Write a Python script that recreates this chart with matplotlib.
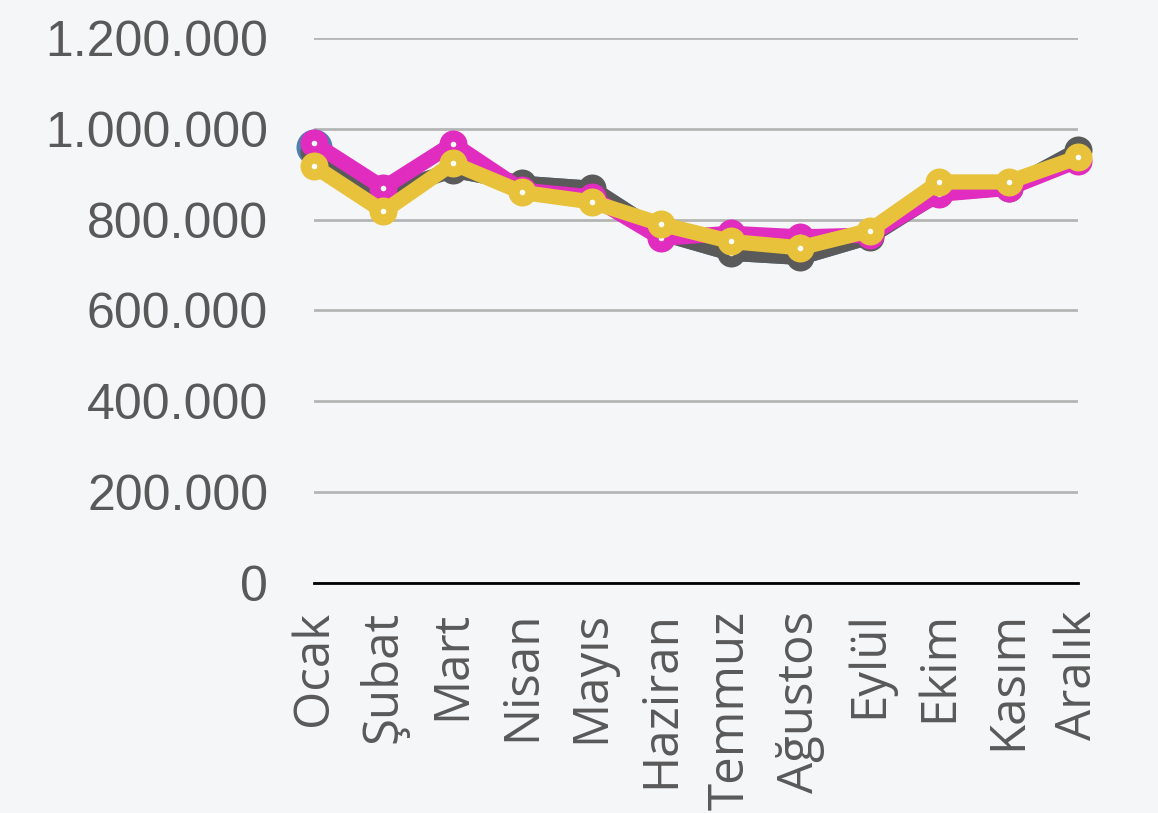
import matplotlib
matplotlib.use("Agg")
import matplotlib.pyplot as plt
from matplotlib.ticker import FuncFormatter

months = ["Ocak", "Şubat", "Mart", "Nisan", "Mayıs", "Haziran", "Temmuz",
          "Ağustos", "Eylül", "Ekim", "Kasım", "Aralık"]
series_blue = [960000, 858000, 909000, 880000, 869000, 770000, 726000, 717000, 762000, 858000, 870000, 953000]
series_gray = [948000, 858000, 909000, 880000, 869000, 770000, 726000, 717000, 762000, 858000, 870000, 953000]
series_magenta = [968000, 870000, 967000, 865000, 850000, 759000, 770000, 762000, 766000, 856000, 869000, 930000]
series_yellow = [918000, 818000, 924000, 860000, 839000, 790000, 752000, 738000, 776000, 883000, 883000, 937000]

bg = "#f5f6f8"
fig = plt.figure(figsize=(11.58, 8.13), dpi=100, facecolor=bg)
ax = fig.add_axes([314/1158, 1-583/813, (1078-314)/1158, (583-38)/813])
ax.set_facecolor(bg)

x = list(range(len(months)))
# blue series: only its first marker shows (the rest lies under the gray one)
ax.plot(x, series_blue, color="#4f80ad", lw=11, solid_joinstyle="round",
        marker="o", markevery=[0], markersize=36/100*72, markeredgewidth=0,
        clip_on=False, zorder=3)
styles = [
    (series_gray, "#5a5a5a"),
    (series_magenta, "#e02cbf"),
    (series_yellow, "#e8c23a"),
]
for vals, col in styles:
    ax.plot(x, vals, color=col, lw=11, solid_joinstyle="round", solid_capstyle="round",
            marker="o", markersize=28/100*72, markerfacecolor=col, markeredgewidth=0,
            clip_on=False, zorder=3)
    ax.plot(x, vals, ls="none", marker="o", markersize=4, markerfacecolor="white",
            markeredgewidth=0, clip_on=False, zorder=3)

ax.set_xlim(0, 11)
ax.set_ylim(0, 1200000)
ax.set_yticks([0, 200000, 400000, 600000, 800000, 1000000, 1200000])
ax.yaxis.set_major_formatter(FuncFormatter(lambda v, p: f"{int(v):,}".replace(",", ".")))
ax.grid(axis="y", color="#b5b5b5", lw=2)
ax.set_axisbelow(True)
for s in ["top", "right", "left"]:
    ax.spines[s].set_visible(False)
ax.spines["bottom"].set_color("black")
ax.spines["bottom"].set_linewidth(2)
ax.spines["bottom"].set_zorder(2)

ax.set_xticks(x)
ax.set_xticklabels(months, rotation=90, fontsize=35.5, family="Open Sans", color="#595959")
ax.tick_params(axis="x", length=0, pad=20)
ax.tick_params(axis="y", length=0, pad=33, labelsize=36, labelcolor="#595959")
for lbl in ax.get_yticklabels():
    lbl.set_family("Liberation Sans")

fig.savefig("out.png", dpi=100, facecolor=bg)
